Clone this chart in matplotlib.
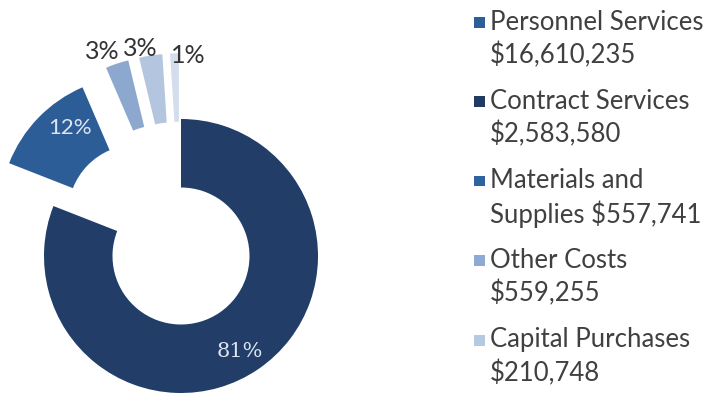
import matplotlib
matplotlib.use("Agg")
import matplotlib.pyplot as plt
from matplotlib.patches import Rectangle
import numpy as np

# budget breakdown
categories = ["Personnel Services", "Contract Services", "Materials and Supplies", "Other Costs", "Capital Purchases"]
amounts = [16610235, 2583580, 557741, 559255, 210748]
pct_labels = ["81%", "12%", "3%", "3%", "1%"]
legend_line1 = ["Personnel Services", "Contract Services", "Materials and", "Other Costs", "Capital Purchases"]
legend_line2 = ["$16,610,235", "$2,583,580", "Supplies $557,741", "$559,255", "$210,748"]

slice_colors = ["#213d68", "#2d5d97", "#8da8cf", "#b4c5df", "#d3ddec"]
legend_colors = ["#2e5e97", "#1f3a63", "#2e62a0", "#8eaad2", "#b7c8e2"]
explode = [0, 0.45, 0.48, 0.48, 0.48]

# label placement: (radius from exploded centre, angle shift in degrees)
lab_r = [0.82, 0.79, 1.12, 1.06, 0.99]
lab_shift = [-3, -8, 3.6, 3.5, -6]

fig = plt.figure(figsize=(7.07, 4.01), dpi=100)
ax = fig.add_axes([0, 0, 1, 1])

wedges, _ = ax.pie(amounts, colors=slice_colors, startangle=90, counterclock=False,
                   explode=explode, wedgeprops=dict(width=0.5, edgecolor="none"))

for i, w in enumerate(wedges):
    mid = np.deg2rad((w.theta1 + w.theta2) / 2 + lab_shift[i])
    cx, cy = w.center
    x = cx + lab_r[i] * np.cos(mid)
    y = cy + lab_r[i] * np.sin(mid)
    if i == 0:
        ax.text(x, y, pct_labels[i], ha="center", va="center", fontsize=15,
                color="#dde5f0", family="DejaVu Serif")
    elif i == 1:
        ax.text(x, y, pct_labels[i], ha="center", va="center", fontsize=16,
                color="#dde5f0", family="Lato")
    else:
        ax.text(x, y, pct_labels[i], ha="center", va="center", fontsize=18,
                color="#333333", family="Lato")

ax.set_xlim(-181 / 137, (707 - 181) / 137)
ax.set_ylim(-145 / 137, 256 / 137)
ax.axis("off")

# legend, drawn by hand so the swatch sits on the first line
top = 1 - 22 / 401
for i in range(len(categories)):
    y1 = top - i * 79.5 / 401
    y2 = y1 - 33 / 401
    fig.patches.append(Rectangle((474 / 707, y1 - 5.5 / 401), 11 / 707, 11 / 401,
                                 transform=fig.transFigure, facecolor=legend_colors[i],
                                 edgecolor="none"))
    fig.text(490 / 707, y1, legend_line1[i], ha="left", va="center", fontsize=18.5,
             family="Lato", color="#404040")
    fig.text(490 / 707, y2, legend_line2[i], ha="left", va="center", fontsize=18.5,
             family="Lato", color="#404040")

fig.savefig("out.png", dpi=100)
